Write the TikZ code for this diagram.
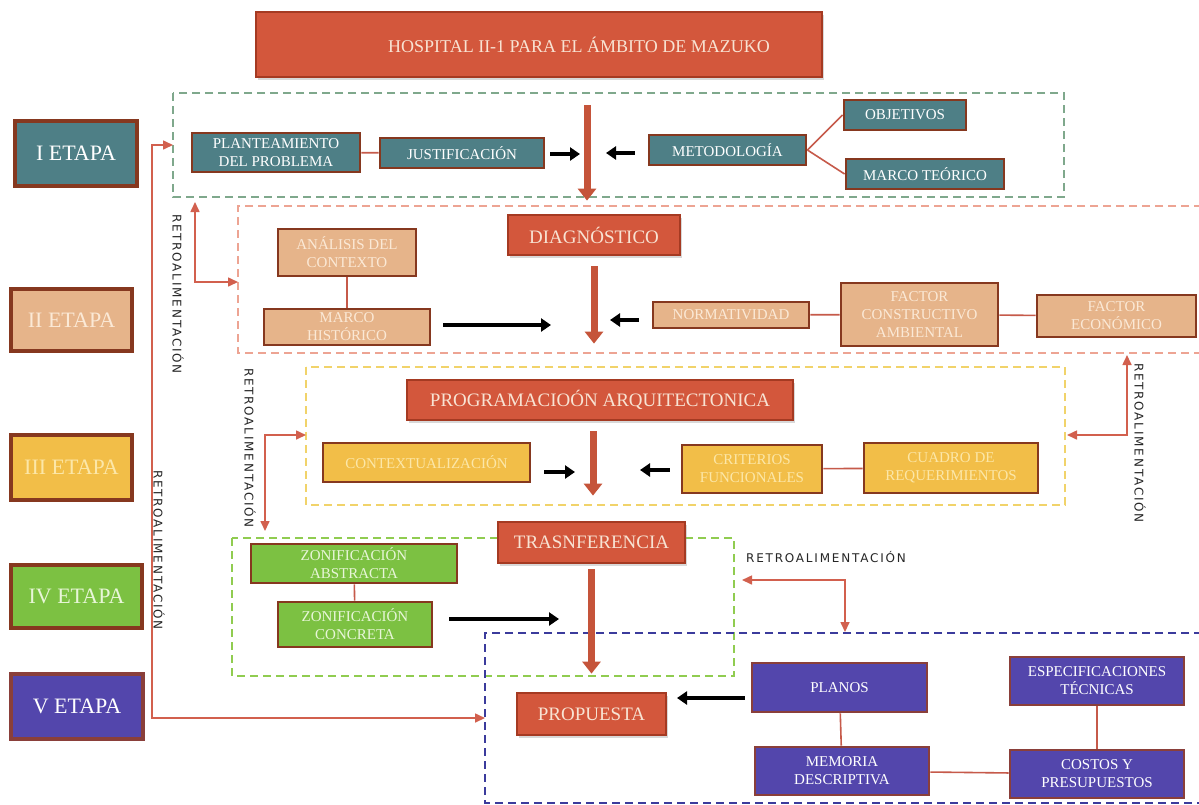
\documentclass[tikz,border=0pt]{standalone}
\usepackage{fontspec}
\setmainfont{Liberation Serif}
\newfontfamily\retrofont{DejaVu Sans}[LetterSpace=15]
\usetikzlibrary{arrows.meta, positioning, shadows, calc}
\definecolor{Box_Teal}{HTML}{4E7F86}
\definecolor{Box_Tan}{HTML}{E6B48A}
\definecolor{Box_Yellow}{HTML}{F2BE48}
\definecolor{Box_Green}{HTML}{7CC142}
\definecolor{Box_Purple}{HTML}{5346AC}
\definecolor{Box_Red}{HTML}{D3573C}
\definecolor{Box_Edge}{HTML}{86381F}
\definecolor{Edge_Purple}{HTML}{8A3F3A}
\definecolor{Red_Edge}{HTML}{A53A22}
\definecolor{Text_Tan}{HTML}{FBE9D6}
\definecolor{Text_Yellow}{HTML}{FCE7A8}
\definecolor{Text_Green}{HTML}{E8F6D8}
\definecolor{Text_Red}{HTML}{F8E3D3}
\definecolor{Link_Red}{HTML}{C65A4A}
\definecolor{Arrow_Red}{HTML}{C5543A}
\definecolor{Feed_Red}{HTML}{D2604E}
\definecolor{Retro_Gray}{HTML}{262626}
\definecolor{Frame_One}{HTML}{7FA88C}
\definecolor{Frame_Two}{HTML}{EDA493}
\definecolor{Frame_Three}{HTML}{F1D36A}
\definecolor{Frame_Four}{HTML}{90CC50}
\definecolor{Frame_Five}{HTML}{3B3B9C}

\begin{document}
\begin{tikzpicture}[x=0.5pt, y=-0.5pt,
  box/.style={draw=Box_Edge, line width=1.4pt, inner sep=1pt, align=center,
    font=\fontsize{7.5}{9}\selectfont},
  tealbox/.style={box, fill=Box_Teal, text=white},
  tanbox/.style={box, fill=Box_Tan, text=Text_Tan},
  yellowbox/.style={box, fill=Box_Yellow, text=Text_Yellow},
  greenbox/.style={box, fill=Box_Green, text=Text_Green},
  purplebox/.style={box, fill=Box_Purple, text=white, draw=Edge_Purple},
  redbox/.style={draw=Red_Edge, line width=1.4pt, fill=Box_Red, text=Text_Red,
    drop shadow={opacity=0.3, shadow xshift=1pt, shadow yshift=-1.5pt},
    font=\fontsize{9.5}{11}\selectfont, inner sep=1pt},
  etapa/.style={draw=Box_Edge, line width=1.6pt, font=\fontsize{11}{13}\selectfont},
  zoneframe/.style={line width=1.1pt, dash pattern=on 4pt off 2.5pt},
  link/.style={draw=Link_Red, line width=0.8pt},
  bigarrow/.style={draw=Arrow_Red, line width=3.5pt, -{Triangle[width=9pt,length=6pt]}},
  blackarrow/.style={line width=2pt, -{Triangle[width=6.5pt,length=5pt]}},
  feedback/.style={draw=Feed_Red, line width=0.8pt,
    {Triangle[width=4.5pt,length=5pt]}-{Triangle[width=4.5pt,length=5pt]}},
  retro/.style={font=\retrofont\fontsize{6}{7}\selectfont, text=Retro_Gray, inner sep=0pt}
]
\useasboundingbox (0,0) rectangle (1199,804);
\fill[white] (0,0) rectangle (1199,804);
\clip (0,0) rectangle (1199,804);

% --- Dashed zones of each stage ---
\draw[zoneframe, draw=Frame_One] (173,93) rectangle (1064,197);
\draw[zoneframe, draw=Frame_Two] (1215,206) -- (238,206) -- (238,353) -- (1215,353);
\draw[zoneframe, draw=Frame_Three] (306,367) rectangle (1065,505);
\draw[zoneframe, draw=Frame_Four] (232,538) rectangle (734,676);
\draw[zoneframe, draw=Frame_Five] (1215,633) -- (485,633) -- (485,803) -- (1215,803);

% --- Stage labels ---
\node[etapa, fill=Box_Teal, text=white, minimum width=61pt, minimum height=32.5pt] (et1) at (76,153.5) {I ETAPA};
\node[etapa, fill=Box_Tan, text=Text_Tan, minimum width=60.5pt, minimum height=31pt] (et2) at (71.5,320) {II ETAPA};
\node[etapa, fill=Box_Yellow, text=Text_Yellow, minimum width=60.5pt, minimum height=32.5pt] (et3) at (71.5,467.5) {III ETAPA};
\node[etapa, fill=Box_Green, text=Text_Green, minimum width=65.5pt, minimum height=31.5pt] (et4) at (76.5,596.5) {IV ETAPA};
\node[etapa, fill=Box_Purple, text=white, draw=Edge_Purple, minimum width=66pt, minimum height=32.5pt] (et5) at (77,706.5) {V ETAPA};

% --- Title and main flow ---
\node[redbox, minimum width=283pt, minimum height=32.5pt] (title) at (539,44.5) {};
\node[font=\fontsize{9}{11}\selectfont, text=Text_Red] (titletext) at (579,44.5) {HOSPITAL II-1 PARA EL ÁMBITO DE MAZUKO};
\node[redbox, minimum width=86pt, minimum height=20pt] (diag) at (594,235) {DIAGNÓSTICO};
\node[redbox, minimum width=193pt, minimum height=20pt] (prog) at (600,400) {PROGRAMACIOÓN ARQUITECTONICA};
\node[redbox, minimum width=93.5pt, minimum height=20.5pt] (trans) at (591.5,542.5) {TRASNFERENCIA};
\node[redbox, minimum width=74.5pt, minimum height=21pt] (prop) at (591.5,714) {PROPUESTA};

% --- I etapa ---
\node[tealbox, minimum width=84pt, minimum height=19.5pt] (plant) at (276,152.5) {PLANTEAMIENTO\\DEL PROBLEMA};
\node[tealbox, minimum width=82pt, minimum height=15pt] (just) at (462,153) {JUSTIFICACIÓN};
\node[tealbox, minimum width=78.5pt, minimum height=15pt] (metod) at (727.5,150) {METODOLOGÍA};
\node[tealbox, minimum width=61pt, minimum height=15pt] (objet) at (905,115) {OBJETIVOS};
\node[tealbox, minimum width=79pt, minimum height=15pt] (marco) at (925,174) {MARCO TEÓRICO};

% --- II etapa ---
\node[tanbox, minimum width=69pt, minimum height=23.5pt] (anal) at (347,252.5) {ANÁLISIS DEL\\CONTEXTO};
\node[tanbox, minimum width=83pt, minimum height=18pt] (histo) at (347,327) {MARCO\\HISTÓRICO};
\node[tanbox, minimum width=78pt, minimum height=13pt] (norma) at (731,315) {NORMATIVIDAD};
\node[tanbox, minimum width=78.5pt, minimum height=31.5pt] (fconst) at (919.5,314.5) {FACTOR\\CONSTRUCTIVO\\AMBIENTAL};
\node[tanbox, minimum width=79.5pt, minimum height=21pt] (fecon) at (1116.5,316) {FACTOR\\ECONÓMICO};

% --- III etapa ---
\node[yellowbox, minimum width=103.5pt, minimum height=19.5pt] (contx) at (426.5,462.5) {CONTEXTUALIZACIÓN};
\node[yellowbox, minimum width=70pt, minimum height=24pt] (crit) at (752,469) {CRITERIOS\\FUNCIONALES};
\node[yellowbox, minimum width=87pt, minimum height=25pt] (cuadro) at (951,468) {CUADRO DE\\REQUERIMIENTOS};

% --- IV etapa ---
\node[greenbox, minimum width=103pt, minimum height=19.5pt] (zabs) at (354,563.5) {ZONIFICACIÓN\\ABSTRACTA};
\node[greenbox, minimum width=77pt, minimum height=22.5pt] (zcon) at (355,624.5) {ZONIFICACIÓN\\CONCRETA};

% --- V etapa ---
\node[purplebox, minimum width=87.5pt, minimum height=24.5pt] (planos) at (839.5,687.5) {PLANOS};
\node[purplebox, minimum width=87pt, minimum height=24pt] (memo) at (842,771) {MEMORIA\\DESCRIPTIVA};
\node[purplebox, minimum width=87pt, minimum height=24pt] (espec) at (1097,681) {ESPECIFICACIONES\\TÉCNICAS};
\node[purplebox, minimum width=87pt, minimum height=24pt] (costos) at (1097,774) {COSTOS Y\\PRESUPUESTOS};

% --- Links between boxes ---
\draw[link] (plant) -- (just);
\draw[link] (metod.east) -- (objet.west);
\draw[link] (metod.east) -- (marco.west);
\draw[link] (anal) -- (histo);
\draw[link] (norma) -- (fconst);
\draw[link] (fconst) -- (fecon);
\draw[link] (crit) -- (cuadro);
\draw[link] (zabs) -- (zcon);
\draw[link] (planos) -- (memo);
\draw[link] (espec) -- (costos);
\draw[link] (memo) -- (costos);

% --- Main flow arrows ---
\coordinate (flowtop) at (587,105);
\draw[bigarrow, shorten >=6.5pt] (flowtop) -- (flowtop |- diag.north);
\draw[bigarrow, shorten <=5pt, shorten >=17.5pt] (diag.south) -- (diag.south |- prog.north);
\draw[bigarrow, shorten <=5pt, shorten >=12.5pt] ([xshift=-3.5pt]prog.south) -- ([xshift=-3.5pt]prog.south |- trans.north);
\draw[bigarrow, shorten <=2.5pt, shorten >=9pt] (trans.south) -- (trans.south |- prop.north);

% --- Inputs into the flow ---
\coordinate (inJ) at (580,154);
\coordinate (inM) at (606,153);
\coordinate (inH) at (551,325);
\coordinate (inN) at (610,320);
\coordinate (inC) at (575,472);
\coordinate (inK) at (640,470);
\coordinate (inZ) at (559,619);
\coordinate (inP) at (677,698);
\draw[blackarrow] ([xshift=2.5pt]just.east |- inJ) -- (inJ);
\draw[blackarrow] ([xshift=-6.5pt]metod.west |- inM) -- (inM);
\draw[blackarrow] ([xshift=6pt]histo.east |- inH) -- (inH);
\draw[blackarrow] ([xshift=-6.5pt]norma.west |- inN) -- (inN);
\draw[blackarrow] ([xshift=6.5pt]contx.east |- inC) -- (inC);
\draw[blackarrow] ([xshift=-5.5pt]crit.west |- inK) -- (inK);
\draw[blackarrow] ([xshift=8pt]zcon.east |- inZ) -- (inZ);
\draw[blackarrow] ([xshift=-3pt]planos.west |- inP) -- (inP);

% --- Feedback loops ---
\draw[feedback] (173,145) -- (152,145) -- (152,718) -- (485,718);
\draw[feedback] (195,202) -- (195,282) -- (238,282);
\draw[feedback] (265,531) -- (265,435) -- (306,435);
\draw[feedback] (1127,355) -- (1127,435) -- (1067,435);
\draw[feedback] (742,580) -- (845,580) -- (845,632);
\node[retro, rotate=-90] (retroA) at (178,294) {RETROALIMENTACIÓN};
\node[retro, rotate=-90] (retroB) at (250,448) {RETROALIMENTACIÓN};
\node[retro, rotate=-90] (retroC) at (159,550) {RETROALIMENTACIÓN};
\node[retro, rotate=-90] (retroD) at (1140,443) {RETROALIMENTACIÓN};
\node[retro] (retroE) at (826,557) {RETROALIMENTACIÓN};
\end{tikzpicture}
\end{document}
